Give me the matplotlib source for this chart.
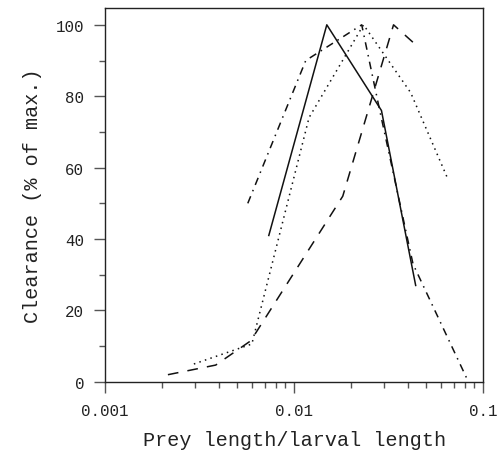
import matplotlib
matplotlib.use("Agg")
import matplotlib.pyplot as plt
from matplotlib.ticker import LogLocator, MultipleLocator, FixedLocator, FixedFormatter, NullFormatter

# Data (x = prey length / larval length, y = clearance % of max)
solid_x = [0.00735, 0.0149, 0.0290, 0.0440]
solid_y = [41, 100, 76, 27]

dotted_x = [0.00295, 0.00598, 0.0120, 0.0233, 0.0414, 0.0649]
dotted_y = [5, 10.6, 74, 100, 81, 57]

dashed_x = [0.00215, 0.00385, 0.0059, 0.0181, 0.0336, 0.0428]
dashed_y = [2, 4.7, 11.5, 52, 100, 95]

dashdot_x = [0.00569, 0.01153, 0.0228, 0.0284, 0.0426, 0.0828]
dashdot_y = [50, 90, 100, 76, 33, 0.5]

xticks = [0.001, 0.01, 0.1]
xticklabels = ["0.001", "0.01", "0.1"]
yticks = [0, 20, 40, 60, 80, 100]

plt.rcParams['font.family'] = ['Liberation Mono', 'DejaVu Sans']

fig = plt.figure(figsize=(4.98, 4.52), dpi=100)
ax = fig.add_axes([0.211, 0.153, 0.759, 0.827])

lc = '#111111'
ax.plot(solid_x, solid_y, color=lc, lw=1.1, linestyle='-')
ax.plot(dotted_x, dotted_y, color=lc, lw=1.1, linestyle=(0, (1, 2.8)))
ax.plot(dashed_x, dashed_y, color=lc, lw=1.1, linestyle=(0, (7, 6)))
ax.plot(dashdot_x, dashdot_y, color=lc, lw=1.1, linestyle=(0, (5, 3.5, 1, 3.5)))

ax.set_xscale('log')
ax.set_xlim(0.001, 0.1)
ax.set_ylim(0, 104.7)

ax.xaxis.set_major_locator(FixedLocator(xticks))
ax.xaxis.set_major_formatter(FixedFormatter(xticklabels))
ax.xaxis.set_minor_locator(LogLocator(base=10, subs=range(2, 10)))
ax.xaxis.set_minor_formatter(NullFormatter())
ax.yaxis.set_major_locator(FixedLocator(yticks))
ax.yaxis.set_minor_locator(MultipleLocator(10))

ax.tick_params(which='major', direction='out', length=8, width=1, color='#555555',
               labelsize=11.3, pad=7, labelcolor='#222222')
ax.tick_params(which='minor', direction='out', length=4, width=1, color='#555555')

for s in ax.spines.values():
    s.set_linewidth(1.0)
    s.set_color('#222222')

ax.set_xlabel("Prey length/larval length", fontsize=14.5, color='#222222', labelpad=9)
ax.set_ylabel("Clearance (% of max.)", fontsize=14.5, color='#222222', labelpad=10)

fig.savefig("out.png", dpi=100)
